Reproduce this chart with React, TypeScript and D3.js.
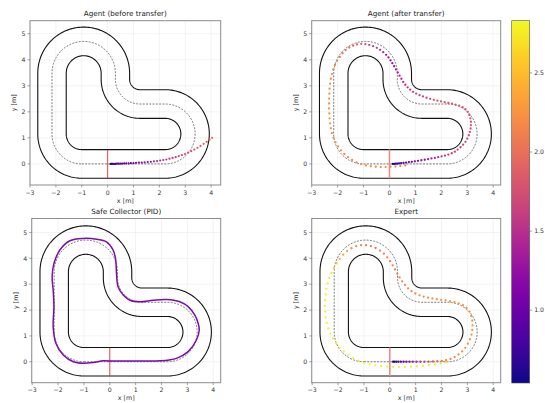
import React from 'react';
import * as d3 from 'd3';

type P3 = [number, number, number];

const xTicks = [-3, -2, -1, 0, 1, 2, 3, 4];
const yTicks = [0, 1, 2, 3, 4, 5];
const cbarTicks = [1.0, 1.5, 2.0, 2.5];
const speedMin = 0.54;
const speedMax = 2.83;
const titles = ['Agent (before transfer)', 'Agent (after transfer)', 'Safe Collector (PID)', 'Expert'];

// centerline of the track (segments)
const HALF_WIDTH = 0.55;
const centerSegments: any[] = [
  { type: 'line', from: [-1.0, 0], to: [2.23, 0] },
  { type: 'arc', c: [2.23, 1.15], r: 1.15, a0: -90, a1: 90 },
  { type: 'line', from: [2.23, 2.3], to: [1.25, 2.3] },
  { type: 'arc', c: [1.25, 3.25], r: 0.95, a0: -90, a1: -180 },
  { type: 'line', from: [0.3, 3.25], to: [0.3, 3.48] },
  { type: 'arc', c: [-0.925, 3.48], r: 1.225, a0: 0, a1: 180 },
  { type: 'line', from: [-2.15, 3.48], to: [-2.15, 1.15] },
  { type: 'arc', c: [-1.0, 1.15], r: 1.15, a0: 180, a1: 270 },
];

const trajBefore: P3[] = [
  [0.12, 0.0, 0.58], [0.16, 0.0, 0.62], [0.2, 0.0, 0.66], [0.25, 0.0, 0.7], [0.3, 0.0, 0.74],
  [0.36, 0.01, 0.78], [0.42, 0.01, 0.82], [0.49, 0.01, 0.86], [0.56, 0.01, 0.9], [0.64, 0.02, 0.94],
  [0.72, 0.02, 0.98], [0.81, 0.02, 1.02], [0.9, 0.03, 1.06], [1.0, 0.03, 1.1], [1.1, 0.04, 1.14],
  [1.21, 0.05, 1.18], [1.32, 0.05, 1.22], [1.43, 0.06, 1.26], [1.55, 0.07, 1.3], [1.67, 0.08, 1.34],
  [1.79, 0.1, 1.38], [1.91, 0.11, 1.42], [2.03, 0.13, 1.46], [2.15, 0.15, 1.5], [2.27, 0.17, 1.54],
  [2.39, 0.2, 1.57], [2.51, 0.23, 1.6], [2.63, 0.26, 1.63], [2.75, 0.3, 1.66], [2.87, 0.34, 1.69],
  [2.99, 0.38, 1.72], [3.11, 0.43, 1.75], [3.23, 0.49, 1.78], [3.35, 0.55, 1.8], [3.47, 0.62, 1.82],
  [3.59, 0.69, 1.84], [3.71, 0.77, 1.86], [3.83, 0.85, 1.88], [3.94, 0.93, 1.9], [4.04, 1.0, 1.92],
];

const trajAfter: P3[] = [
  [0.13, 0.0, 0.55], [0.18, 0.0, 0.6], [0.24, 0.01, 0.65], [0.3, 0.01, 0.7], [0.37, 0.02, 0.78],
  [0.45, 0.03, 0.85], [0.54, 0.04, 0.92], [0.64, 0.05, 1.0], [0.75, 0.07, 1.05], [0.86, 0.08, 1.1],
  [0.98, 0.1, 1.15], [1.1, 0.12, 1.2], [1.23, 0.14, 1.25], [1.36, 0.16, 1.3], [1.49, 0.18, 1.35],
  [1.62, 0.21, 1.4], [1.75, 0.23, 1.45], [1.88, 0.26, 1.5], [2.01, 0.29, 1.52], [2.14, 0.32, 1.55],
  [2.27, 0.36, 1.58], [2.4, 0.41, 1.6], [2.52, 0.47, 1.62], [2.63, 0.55, 1.65], [2.74, 0.64, 1.67],
  [2.84, 0.74, 1.7], [2.93, 0.85, 1.72], [3.0, 0.97, 1.74], [3.06, 1.1, 1.75], [3.1, 1.23, 1.76],
  [3.13, 1.36, 1.77], [3.14, 1.49, 1.78], [3.14, 1.62, 1.78], [3.12, 1.75, 1.79], [3.08, 1.88, 1.8],
  [3.02, 2.0, 1.8], [2.93, 2.1, 1.8], [2.82, 2.18, 1.8], [2.69, 2.24, 1.8], [2.55, 2.28, 1.8],
  [2.41, 2.31, 1.8], [2.27, 2.34, 1.8], [2.13, 2.37, 1.8], [1.99, 2.4, 1.79], [1.85, 2.43, 1.78],
  [1.71, 2.46, 1.76], [1.57, 2.5, 1.74], [1.43, 2.54, 1.72], [1.29, 2.59, 1.7], [1.16, 2.64, 1.68],
  [1.03, 2.7, 1.65], [0.91, 2.77, 1.62], [0.8, 2.85, 1.6], [0.7, 2.94, 1.57], [0.61, 3.04, 1.54],
  [0.53, 3.15, 1.5], [0.46, 3.27, 1.46], [0.39, 3.39, 1.42], [0.32, 3.51, 1.38], [0.25, 3.63, 1.35],
  [0.18, 3.75, 1.32], [0.11, 3.87, 1.3], [0.04, 3.98, 1.3], [-0.04, 4.09, 1.32], [-0.13, 4.19, 1.36],
  [-0.24, 4.29, 1.42], [-0.36, 4.38, 1.5], [-0.49, 4.46, 1.58], [-0.63, 4.52, 1.65], [-0.78, 4.57, 1.72],
  [-0.93, 4.6, 1.78], [-1.09, 4.61, 1.83], [-1.25, 4.59, 1.88], [-1.4, 4.54, 1.92], [-1.55, 4.47, 1.96],
  [-1.69, 4.37, 2.0], [-1.81, 4.25, 2.03], [-1.92, 4.11, 2.06], [-2.02, 3.96, 2.09], [-2.1, 3.8, 2.12],
  [-2.17, 3.63, 2.14], [-2.22, 3.45, 2.16], [-2.26, 3.27, 2.18], [-2.29, 3.08, 2.2], [-2.31, 2.89, 2.21],
  [-2.32, 2.7, 2.22], [-2.33, 2.51, 2.23], [-2.33, 2.32, 2.24], [-2.33, 2.13, 2.25], [-2.32, 1.94, 2.25],
  [-2.31, 1.75, 2.25], [-2.29, 1.56, 2.25], [-2.26, 1.37, 2.25], [-2.22, 1.18, 2.25], [-2.16, 1.0, 2.24],
  [-2.08, 0.83, 2.23], [-1.98, 0.67, 2.22], [-1.87, 0.52, 2.21], [-1.74, 0.38, 2.2], [-1.6, 0.26, 2.2],
  [-1.44, 0.15, 2.2], [-1.27, 0.06, 2.2], [-1.09, -0.01, 2.2], [-0.91, -0.06, 2.2], [-0.72, -0.09, 2.2],
  [-0.53, -0.11, 2.2], [-0.34, -0.12, 2.2], [-0.15, -0.12, 2.2], [0.04, -0.11, 2.2], [0.23, -0.1, 2.2],
  [0.42, -0.08, 2.2], [0.61, -0.06, 2.2],
];

// Safe collector path (waypoints, x, y)
const pidX = [0.0, 0.5, 1.0, 1.5, 1.94, 2.3, 2.58, 3.03, 3.35, 3.46, 3.42, 3.29, 3.03, 2.71, 2.19, 1.68, 1.16, 0.78, 0.52, 0.32, 0.26, 0.23, 0.13, -0.13, -0.51, -1.03, -1.54, -1.93, -2.16, -2.23, -2.19, -2.16, -2.19, -2.08, -1.8, -1.41, -1.03, -0.64, -0.26, 0.0];
const pidY = [0.03, 0.03, 0.03, 0.03, 0.04, 0.07, 0.13, 0.39, 0.84, 1.22, 1.48, 1.8, 2.13, 2.32, 2.41, 2.38, 2.32, 2.38, 2.58, 2.9, 3.41, 3.93, 4.32, 4.64, 4.74, 4.77, 4.68, 4.32, 3.8, 3.29, 2.77, 2.13, 1.35, 0.71, 0.26, 0.0, -0.06, -0.03, 0.04, 0.03];
const pidSpeed = 1.05;

const trajExpert: P3[] = [
  [0.13, 0.0, 0.55], [0.19, 0.0, 0.65], [0.26, 0.0, 0.75], [0.34, 0.0, 0.85], [0.43, 0.0, 0.95],
  [0.53, 0.0, 1.05], [0.64, 0.0, 1.15], [0.76, 0.0, 1.25], [0.89, 0.0, 1.35], [1.03, 0.0, 1.45],
  [1.18, 0.0, 1.55], [1.34, 0.0, 1.65], [1.5, 0.0, 1.75], [1.67, 0.01, 1.85], [1.84, 0.02, 1.95],
  [2.01, 0.03, 2.03], [2.18, 0.06, 2.1], [2.35, 0.11, 2.15], [2.51, 0.18, 2.18], [2.66, 0.28, 2.2],
  [2.8, 0.4, 2.22], [2.92, 0.54, 2.23], [3.02, 0.7, 2.24], [3.1, 0.87, 2.25], [3.16, 1.05, 2.25],
  [3.19, 1.23, 2.25], [3.2, 1.41, 2.25], [3.19, 1.59, 2.25], [3.15, 1.77, 2.25], [3.08, 1.94, 2.25],
  [2.97, 2.08, 2.25], [2.83, 2.19, 2.25], [2.67, 2.26, 2.25], [2.5, 2.31, 2.25], [2.33, 2.34, 2.25],
  [2.16, 2.37, 2.25], [1.99, 2.39, 2.25], [1.82, 2.42, 2.24], [1.65, 2.45, 2.23], [1.48, 2.48, 2.22],
  [1.31, 2.52, 2.2], [1.15, 2.57, 2.19], [0.99, 2.64, 2.18], [0.84, 2.73, 2.17], [0.71, 2.84, 2.16],
  [0.59, 2.97, 2.15], [0.48, 3.11, 2.14], [0.38, 3.26, 2.13], [0.29, 3.41, 2.12], [0.2, 3.57, 2.11],
  [0.11, 3.73, 2.1], [0.01, 3.89, 2.1], [-0.1, 4.04, 2.1], [-0.23, 4.18, 2.1], [-0.38, 4.3, 2.1],
  [-0.55, 4.4, 2.1], [-0.73, 4.47, 2.1], [-0.92, 4.51, 2.12], [-1.11, 4.51, 2.14], [-1.3, 4.47, 2.17],
  [-1.48, 4.39, 2.2], [-1.65, 4.28, 2.25], [-1.8, 4.14, 2.32], [-1.94, 3.98, 2.42], [-2.06, 3.81, 2.55],
  [-2.17, 3.63, 2.65], [-2.26, 3.44, 2.72], [-2.34, 3.24, 2.76], [-2.4, 3.03, 2.78], [-2.45, 2.82, 2.8],
  [-2.48, 2.6, 2.8], [-2.5, 2.38, 2.8], [-2.51, 2.16, 2.8], [-2.5, 1.94, 2.8], [-2.48, 1.72, 2.8],
  [-2.44, 1.5, 2.8], [-2.38, 1.29, 2.8], [-2.3, 1.09, 2.8], [-2.2, 0.9, 2.8], [-2.08, 0.72, 2.8],
  [-1.94, 0.55, 2.8], [-1.78, 0.4, 2.8], [-1.6, 0.26, 2.8], [-1.41, 0.14, 2.8], [-1.21, 0.04, 2.8],
  [-1.0, -0.04, 2.8], [-0.78, -0.1, 2.8], [-0.56, -0.14, 2.8], [-0.33, -0.17, 2.8], [-0.1, -0.19, 2.8],
  [0.13, -0.2, 2.8], [0.36, -0.2, 2.8], [0.59, -0.2, 2.8], [0.82, -0.19, 2.8], [1.05, -0.18, 2.78],
  [1.28, -0.16, 2.76], [1.51, -0.13, 2.74], [1.74, -0.1, 2.72], [1.97, -0.06, 2.7], [2.18, -0.01, 2.68],
];

const FONT = 'DejaVu Sans, sans-serif';

function sampleTrack(offset: number): [number, number][] {
  const pts: [number, number][] = [];
  for (const s of centerSegments) {
    if (s.type === 'line') {
      const dx = s.to[0] - s.from[0], dy = s.to[1] - s.from[1];
      const L = Math.hypot(dx, dy);
      const tx = dx / L, ty = dy / L;
      pts.push([s.from[0] + offset * ty, s.from[1] - offset * tx]);
      pts.push([s.to[0] + offset * ty, s.to[1] - offset * tx]);
    } else {
      const sign = s.a1 > s.a0 ? 1 : -1;
      const n = Math.ceil(Math.abs(s.a1 - s.a0) / 2);
      for (let i = 0; i <= n; i++) {
        const a = ((s.a0 + ((s.a1 - s.a0) * i) / n) * Math.PI) / 180;
        const px = s.c[0] + s.r * Math.cos(a), py = s.c[1] + s.r * Math.sin(a);
        const tx = -sign * Math.sin(a), ty = sign * Math.cos(a);
        pts.push([px + offset * ty, py - offset * tx]);
      }
    }
  }
  pts.push(pts[0]);
  return pts;
}

const color = (v: number) => d3.interpolatePlasma(Math.max(0, Math.min(1, (v - speedMin) / (speedMax - speedMin))));

type PanelDef = {
  left: number; right: number; top: number; bottom: number;
  xd: [number, number]; yd: [number, number]; title: string;
  kind: 'dots' | 'line'; dots?: P3[]; startStyle: 'thin' | 'wide'; dotR: number;
};

const panels: PanelDef[] = [
  { left: 30, right: 220.7, top: 20.7, bottom: 185, xd: [-3, 4.37], yd: [-0.81, 5.5], title: titles[0], kind: 'dots', dots: trajBefore, startStyle: 'thin', dotR: 1.1 },
  { left: 311.7, right: 500.7, top: 20.7, bottom: 185, xd: [-3, 4.29], yd: [-0.81, 5.5], title: titles[1], kind: 'dots', dots: trajAfter, startStyle: 'wide', dotR: 1.15 },
  { left: 31.7, right: 220.7, top: 218.5, bottom: 382.7, xd: [-3.02, 4.29], yd: [-0.81, 5.54], title: titles[2], kind: 'line', startStyle: 'thin', dotR: 1 },
  { left: 311.7, right: 500.7, top: 218.5, bottom: 382.7, xd: [-3.02, 4.29], yd: [-0.81, 5.54], title: titles[3], kind: 'dots', dots: trajExpert, startStyle: 'wide', dotR: 1.15 },
];

const fmt = (v: number) => (v < 0 ? '\u2212' + Math.abs(v) : String(v));

function Panel({ p, idx }: { p: PanelDef; idx: number }) {
  const x = d3.scaleLinear().domain(p.xd).range([p.left, p.right]);
  const y = d3.scaleLinear().domain(p.yd).range([p.bottom, p.top]);
  const line = d3.line<[number, number]>().x((d) => x(d[0])).y((d) => y(d[1]));
  const outer = line(sampleTrack(HALF_WIDTH)) || '';
  const inner = line(sampleTrack(-HALF_WIDTH)) || '';
  const center = line(sampleTrack(0)) || '';
  const clipId = 'clip' + idx;
  const pidPts: [number, number][] = pidX.map((v, i) => [v, pidY[i]]);
  const pidPath = d3.line<[number, number]>().x((d) => x(d[0])).y((d) => y(d[1])).curve(d3.curveCatmullRom)(pidPts) || '';
  const cx = (p.left + p.right) / 2;
  const cy = (p.top + p.bottom) / 2;
  return (
    <g>
      <defs>
        <clipPath id={clipId}>
          <rect x={p.left} y={p.top} width={p.right - p.left} height={p.bottom - p.top} />
        </clipPath>
      </defs>
      <rect x={p.left} y={p.top} width={p.right - p.left} height={p.bottom - p.top} fill="#fff" />
      {xTicks.map((t) => (
        <line key={'gx' + t} x1={x(t)} x2={x(t)} y1={p.top} y2={p.bottom} stroke="#ebebeb" strokeWidth={0.6} />
      ))}
      {yTicks.map((t) => (
        <line key={'gy' + t} x1={p.left} x2={p.right} y1={y(t)} y2={y(t)} stroke="#ebebeb" strokeWidth={0.6} />
      ))}
      <g clipPath={`url(#${clipId})`}>
        <path d={outer} fill="none" stroke="#111" strokeWidth={1.1} />
        <path d={inner} fill="none" stroke="#111" strokeWidth={1.1} />
        <path d={center} fill="none" stroke="#444" strokeWidth={0.7} strokeDasharray="2,1.3" />
        {p.startStyle === 'thin' ? (
          <line x1={x(0)} x2={x(0)} y1={y(-HALF_WIDTH)} y2={y(HALF_WIDTH)} stroke="#e8141c" strokeWidth={0.8} />
        ) : (
          <line x1={x(0)} x2={x(0)} y1={y(-HALF_WIDTH)} y2={y(HALF_WIDTH)} stroke="#f08a8a" strokeWidth={1.6} />
        )}
        {p.kind === 'dots' &&
          p.dots!.map((d, i) => <circle key={i} cx={x(d[0])} cy={y(d[1])} r={p.dotR} fill={color(d[2])} />)}
        {p.kind === 'line' && (
          <path d={pidPath} fill="none" stroke={color(pidSpeed)} strokeWidth={1.5} strokeOpacity={0.95} />
        )}
      </g>
      <rect x={p.left} y={p.top} width={p.right - p.left} height={p.bottom - p.top} fill="none" stroke="#8c8c8c" strokeWidth={1} />
      {xTicks.map((t) => (
        <g key={'tx' + t}>
          <line x1={x(t)} x2={x(t)} y1={p.bottom} y2={p.bottom + 2.5} stroke="#666" strokeWidth={0.6} />
          <text x={x(t)} y={p.bottom + 9.5} fontSize={6.2} fontFamily={FONT} fill="#333" textAnchor="middle">{fmt(t)}</text>
        </g>
      ))}
      {yTicks.map((t) => (
        <g key={'ty' + t}>
          <line x1={p.left - 2.5} x2={p.left} y1={y(t)} y2={y(t)} stroke="#666" strokeWidth={0.6} />
          <text x={p.left - 4.5} y={y(t) + 2.2} fontSize={6.2} fontFamily={FONT} fill="#333" textAnchor="end">{fmt(t)}</text>
        </g>
      ))}
      <text x={cx} y={p.top - 4.5} fontSize={7.2} fontFamily={FONT} fill="#222" textAnchor="middle">{p.title}</text>
      <text x={cx} y={p.bottom + 17.5} fontSize={6.4} fontFamily={FONT} fill="#333" textAnchor="middle">x [m]</text>
      <text transform={`translate(${p.left - 14},${cy}) rotate(-90)`} fontSize={6.4} fontFamily={FONT} fill="#333" textAnchor="middle">y [m]</text>
    </g>
  );
}

function Colorbar() {
  const left = 511.7, right = 529.7, top = 20.7, bottom = 383;
  const s = d3.scaleLinear().domain([speedMin, speedMax]).range([bottom, top]);
  const stops = d3.range(0, 1.0001, 0.05);
  return (
    <g>
      <defs>
        <linearGradient id="cbar" x1="0" y1="1" x2="0" y2="0">
          {stops.map((t) => (
            <stop key={t} offset={t} stopColor={d3.interpolatePlasma(t)} />
          ))}
        </linearGradient>
      </defs>
      <rect x={left} y={top} width={right - left} height={bottom - top} fill="url(#cbar)" stroke="#555" strokeWidth={0.6} />
      {cbarTicks.map((t) => (
        <g key={t}>
          <line x1={right} x2={right + 2.5} y1={s(t)} y2={s(t)} stroke="#666" strokeWidth={0.6} />
          <text x={right + 4.5} y={s(t) + 2.2} fontSize={6.2} fontFamily={FONT} fill="#333">{t.toFixed(1)}</text>
        </g>
      ))}
    </g>
  );
}

export default function App() {
  return (
    <svg width={545} height={403} style={{ position: 'absolute', left: 0, top: 0, background: '#fff' }}>
      <rect x={0} y={0} width={545} height={403} fill="#fff" />
      {panels.map((p, i) => (
        <Panel key={i} p={p} idx={i} />
      ))}
      <Colorbar />
    </svg>
  );
}
